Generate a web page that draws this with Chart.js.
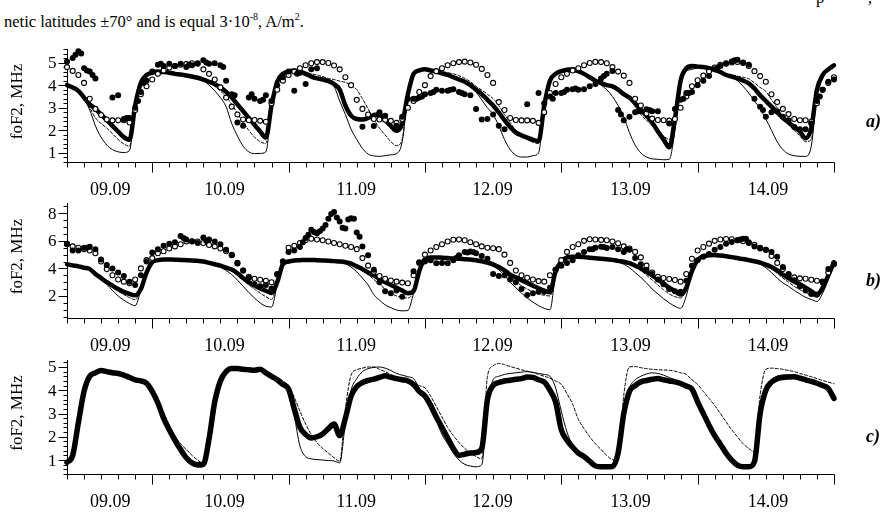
<!DOCTYPE html>
<html>
<head>
<meta charset="utf-8">
<title>foF2 panels</title>
<script src="https://cdn.jsdelivr.net/npm/chart.js@4.4.0/dist/chart.umd.min.js"></script>
<style>
  html, body { margin: 0; padding: 0; background: #fff; }
  #wrap { position: relative; width: 882px; height: 514px; overflow: hidden; }
  #wrap canvas { position: absolute; left: 0; top: 0; }
  .txt { position: absolute; font: 16.5px 'Liberation Serif', 'Times New Roman', serif; line-height: 18px; white-space: nowrap; color: #000; }
  .txt sup { font-size: 10px; line-height: 0; vertical-align: 7px; }
</style>
</head>
<body>
<div id="wrap">
  <div class="txt" style="left:4px;top:13px">netic latitudes ±70° and is equal 3·10<sup>-8</sup>, A/m<sup>2</sup>.</div>
  <div class="txt" style="left:816px;top:-11px">p</div>
  <div class="txt" style="left:868px;top:-11px">,</div>
  <canvas id="chartA" width="882" height="514"></canvas>
  <canvas id="chartB" width="882" height="514"></canvas>
  <canvas id="chartC" width="882" height="514"></canvas>
</div>
<script>
'use strict';
// time axis: hours counted from 09.09 00:00
const hours = [9,10,11,12,13,14,15,16,17,18,19,20,21,22,23,
  24,25,26,27,28,29,30,31,32,33,34,35,36,37,38,39,40,41,42,43,44,45,46,47,
  48,49,50,51,52,53,54,55,56,57,58,59,60,61,62,63,64,65,66,67,68,69,70,71,
  72,73,74,75,76,77,78,79,80,81,82,83,84,85,86,87,88,89,90,91,92,93,94,95,
  96,97,98,99,100,101,102,103,104,105,106,107,108,109,110,111,112,113,114,115,116,117,118,119,
  120,121,122,123,124,125,126,127,128,129,130,131,132,133,134,135,136,137,138,139,140,141,142,143,144];
const dayLabels = ['09.09', '10.09', '11.09', '12.09', '13.09', '14.09'];
const dayLabelHours = [16.6, 36.7, 59.9, 83.9, 108.2, 132.4];
const aYTicks = [1, 2, 3, 4, 5];
const bYTicks = [2, 4, 6, 8];
const cYTicks = [1, 2, 3, 4, 5];

// ---- panel a ----
const aThick = [4.0,3.9,3.75,3.45,3.15,2.95,2.7,2.45,2.2,1.95,1.7,1.58,3.1,4.1,4.45,
  4.55,4.6,4.58,4.55,4.5,4.47,4.43,4.38,4.33,4.25,4.15,4.05,3.9,3.7,3.45,3.15,2.85,2.55,2.25,1.95,1.68,3.1,4.15,4.5,
  4.6,4.65,4.6,4.5,4.38,4.3,4.25,4.18,4.05,3.8,3.1,2.65,2.5,2.48,2.55,2.68,2.7,2.45,2.2,1.98,2.3,3.6,4.5,4.65,
  4.7,4.65,4.6,4.52,4.45,4.35,4.25,4.15,4.0,3.8,3.6,3.35,3.1,2.8,2.45,2.15,1.9,1.78,1.68,1.58,1.52,3.1,4.2,4.5,
  4.62,4.68,4.7,4.62,4.5,4.35,4.2,4.1,4.0,3.95,3.8,3.6,3.45,3.2,2.9,2.65,2.35,1.95,1.6,1.25,2.5,4.2,4.75,4.85,
  4.82,4.8,4.75,4.68,4.58,4.45,4.38,4.3,4.2,4.08,3.85,3.55,3.3,3.05,2.8,2.55,2.35,2.15,1.95,1.65,2.1,3.8,4.45,4.7,4.88];
const aThin = [4.0,3.9,3.75,3.4,2.9,2.2,1.7,1.35,1.15,1.05,1.02,1.1,3.1,4.2,4.5,
  4.6,4.62,4.6,4.55,4.5,4.45,4.4,4.35,4.3,4.2,4.0,3.75,3.45,3.05,2.3,1.75,1.3,1.05,0.97,0.98,1.05,3.0,4.2,4.55,
  4.65,4.68,4.65,4.55,4.45,4.35,4.3,4.2,3.95,3.3,2.7,2.05,1.6,1.2,0.95,0.87,0.85,0.88,0.92,0.97,1.5,3.6,4.55,4.7,
  4.72,4.7,4.65,4.58,4.5,4.42,4.32,4.2,4.0,3.7,3.35,3.0,2.7,2.2,1.6,1.15,0.9,0.82,0.82,0.88,1.0,3.0,4.15,4.45,
  4.55,4.6,4.6,4.55,4.45,4.3,4.15,4.0,3.8,3.5,3.1,2.6,1.9,1.35,1.0,0.82,0.74,0.72,0.7,0.72,2.0,4.0,4.6,4.7,
  4.75,4.75,4.7,4.62,4.55,4.45,4.35,4.2,3.95,3.65,3.3,2.95,2.5,2.0,1.5,1.15,0.95,0.88,0.85,0.85,1.3,3.5,4.3,4.65,4.8];
const aDash = [4.0,3.9,3.75,3.45,3.0,2.55,2.3,2.1,1.85,1.6,1.4,1.3,3.1,4.2,4.5,
  4.6,4.62,4.6,4.55,4.5,4.45,4.4,4.35,4.3,4.22,4.1,3.95,3.75,3.5,3.15,2.75,2.35,2.0,1.7,1.5,1.42,3.1,4.2,4.55,
  4.65,4.68,4.65,4.58,4.5,4.45,4.38,4.3,4.25,4.18,4.12,4.0,3.8,3.4,2.95,2.5,2.1,1.8,1.5,1.32,1.6,3.6,4.55,4.7,
  4.72,4.7,4.65,4.6,4.55,4.5,4.42,4.3,4.15,3.95,3.78,3.6,3.4,3.1,2.7,2.35,2.0,1.78,1.6,1.48,1.42,3.0,4.15,4.5,
  4.6,4.62,4.62,4.56,4.45,4.35,4.25,4.15,4.05,3.98,3.8,3.55,3.4,3.05,2.7,2.45,2.2,1.95,1.75,1.6,2.3,4.1,4.65,4.75,
  4.78,4.78,4.72,4.65,4.58,4.5,4.45,4.4,4.35,4.28,4.1,3.9,3.72,3.35,3.0,2.6,2.3,2.0,1.75,1.5,1.6,3.6,4.35,4.68,4.85];
const aCircles = [4.8,4.63,4.45,4.1,3.4,2.95,2.68,2.48,2.44,2.45,2.45,2.35,2.9,3.6,3.95,
  4.25,4.5,4.65,4.78,4.85,4.9,4.93,4.97,4.97,4.7,4.5,4.25,3.9,3.45,3.05,2.7,2.48,2.45,2.46,2.42,2.38,3.2,3.8,4.2,
  4.45,4.6,4.75,4.88,4.97,5.02,5.02,4.98,4.87,4.7,4.35,4.0,3.35,2.95,2.7,2.5,2.48,2.47,2.42,2.33,2.5,3.0,3.3,3.7,
  4.0,4.4,4.62,4.75,4.88,4.97,5.02,5.04,5.0,4.9,4.72,4.45,4.1,3.25,2.9,2.55,2.46,2.44,2.44,2.42,2.33,2.8,3.65,4.05,
  4.35,4.5,4.65,4.75,4.88,4.98,5.03,5.02,4.97,4.8,4.6,4.42,4.1,3.4,3.1,2.75,2.52,2.46,2.45,2.43,2.5,3.0,3.5,3.95,
  4.22,4.42,4.6,4.78,4.9,4.97,5.0,5.03,4.98,4.85,4.62,4.4,4.15,3.6,3.25,2.95,2.72,2.5,2.45,2.45,2.38,3.2,3.8,4.1,4.35];
const aDots = [5.05,5.2,5.5,4.75,4.6,4.3,null,null,3.45,3.55,2.5,2.55,3.0,3.7,4.2,
  4.6,4.9,4.85,4.95,4.85,4.95,4.8,4.88,4.95,5.1,4.95,4.97,4.88,4.2,3.6,2.35,2.2,3.45,3.4,3.3,3.55,3.3,4.0,4.35,
  4.6,3.75,4.55,4.05,4.7,4.75,null,null,null,null,null,null,null,2.16,null,2.19,2.8,2.65,null,2.2,2.6,3.4,3.4,3.45,
  3.6,3.65,3.8,3.75,3.75,3.82,3.7,3.6,3.55,2.95,2.48,2.5,2.7,2.2,2.05,null,null,null,3.15,null,3.65,3.2,3.5,3.65,
  3.65,3.8,3.82,3.8,3.82,3.95,4.05,4.3,4.5,4.63,2.9,2.45,2.6,2.8,2.85,2.93,2.85,2.85,null,2.3,2.95,3.35,3.65,3.7,
  4.0,4.2,4.4,4.7,4.85,4.95,5.05,5.12,5.0,4.9,3.4,3.05,2.6,2.8,2.85,2.6,2.45,2.15,2.05,2.05,2.3,3.3,3.8,4.15,4.25];
const aExtraX = [10.5,11.5,12.5,13.5,19.5,21.5,22.5,25.5,30.5,33.5,36.5,38.5,41.5,43.5,49.5,70.5,71.5,73.5,76.5,78.5,
  94.5,96.5,98.5,103.5,106.5,109.5,111.5,117.5,118.5,123.5,126.5,131.5,141.5];
const aExtraY = [5.35,5.4,4.65,4.45,2.55,3.3,4.1,4.95,4.9,5.0,4.8,3.55,3.6,3.35,4.5,3.4,3.5,3.7,3.8,3.65,
  3.4,3.7,3.85,4.4,2.7,2.85,2.9,3.4,3.65,4.78,5.1,2.9,3.5];

// ---- panel b ----
const bThick = [4.3,4.22,4.15,4.05,3.95,3.6,3.3,3.0,2.75,2.5,2.3,2.15,2.05,2.5,3.7,
  4.45,4.6,4.65,4.65,4.63,4.62,4.6,4.58,4.55,4.5,4.4,4.3,4.2,4.05,3.92,3.65,3.3,3.0,2.75,2.55,2.38,2.22,3.0,4.3,
  4.5,4.58,4.6,4.62,4.62,4.6,4.58,4.56,4.53,4.5,4.45,4.35,4.15,3.95,3.7,3.5,3.25,3.0,2.8,2.6,2.4,2.2,2.35,3.8,
  4.7,4.8,4.8,4.78,4.75,4.72,4.7,4.67,4.64,4.6,4.52,4.42,4.3,4.1,3.85,3.55,3.35,3.15,2.95,2.75,2.55,2.38,2.28,3.8,
  4.5,4.8,4.85,4.85,4.82,4.78,4.74,4.7,4.66,4.62,4.55,4.48,4.38,4.2,4.0,3.75,3.5,3.2,2.9,2.6,2.35,2.1,2.6,3.8,
  4.6,4.9,4.95,4.97,4.93,4.88,4.82,4.75,4.68,4.6,4.52,4.42,4.28,4.1,3.85,3.55,3.3,3.05,2.85,2.6,2.35,2.1,2.6,3.5,4.45];
const bThin = [4.3,4.22,4.15,4.05,3.9,3.55,3.2,2.85,2.4,2.0,1.7,1.45,1.3,2.4,3.7,
  4.45,4.6,4.65,4.65,4.63,4.62,4.6,4.58,4.55,4.5,4.4,4.28,4.1,3.85,3.55,3.15,2.7,2.25,1.85,1.5,1.25,1.2,2.8,4.25,
  4.5,4.58,4.6,4.62,4.62,4.6,4.58,4.56,4.53,4.48,4.35,4.1,3.75,3.3,2.8,2.1,1.7,1.35,1.15,0.98,0.92,0.95,2.2,3.7,
  4.7,4.8,4.8,4.78,4.75,4.72,4.7,4.67,4.64,4.58,4.48,4.35,4.15,3.9,3.5,3.0,2.6,2.2,1.85,1.55,1.3,1.1,1.0,3.5,
  4.45,4.75,4.8,4.8,4.78,4.75,4.72,4.68,4.62,4.55,4.45,4.3,4.05,3.7,3.35,2.95,2.5,2.15,1.8,1.5,1.25,1.1,2.0,3.7,
  4.55,4.85,4.92,4.95,4.9,4.85,4.8,4.72,4.65,4.55,4.45,4.3,4.05,3.7,3.3,2.95,2.7,2.4,2.15,1.9,1.75,1.6,2.2,3.2,4.3];
const bDash = [4.3,4.22,4.15,4.05,3.93,3.58,3.25,2.95,2.65,2.35,2.1,1.88,1.72,2.5,3.7,
  4.45,4.6,4.65,4.65,4.63,4.62,4.6,4.58,4.55,4.5,4.4,4.28,4.15,3.98,3.8,3.5,3.15,2.8,2.5,2.2,1.95,1.75,2.9,4.25,
  4.5,4.58,4.6,4.62,4.62,4.6,4.58,4.56,4.53,4.5,4.42,4.3,4.1,3.85,3.55,3.2,2.85,2.5,2.2,2.0,1.9,1.85,2.3,3.75,
  4.7,4.8,4.8,4.78,4.75,4.72,4.7,4.67,4.64,4.6,4.5,4.38,4.22,4.0,3.7,3.35,3.05,2.75,2.5,2.3,2.15,2.05,2.0,3.6,
  4.45,4.78,4.83,4.83,4.8,4.76,4.72,4.68,4.64,4.6,4.52,4.42,4.3,4.1,3.85,3.5,3.15,2.8,2.45,2.15,1.95,1.85,2.5,3.75,
  4.58,4.88,4.93,4.96,4.92,4.86,4.8,4.73,4.66,4.58,4.5,4.38,4.2,3.95,3.65,3.3,3.0,2.7,2.45,2.25,2.05,1.9,2.4,3.3,4.35];
const bCircles = [5.75,5.6,5.5,5.4,5.3,5.1,4.5,3.95,3.5,3.2,3.04,2.92,3.2,4.0,4.6,
  4.75,5.1,5.25,5.45,5.6,5.75,5.95,5.97,5.95,5.85,5.7,5.6,5.45,5.25,4.98,4.4,3.85,3.4,3.25,3.18,3.1,3.0,3.6,4.5,
  5.5,5.65,5.85,6.05,6.15,6.1,6.05,5.95,5.85,5.75,5.65,5.55,5.4,4.75,4.2,3.75,3.45,3.25,3.12,3.04,2.97,2.92,3.5,4.4,
  5.0,5.3,5.55,5.75,5.95,6.08,6.1,6.05,5.9,5.75,5.6,5.5,5.46,5.4,5.0,4.4,3.85,3.5,3.32,3.2,3.08,3.04,3.5,3.9,
  4.6,5.2,5.55,5.75,6.0,6.12,6.1,6.07,6.05,5.95,5.83,5.6,5.45,5.2,4.8,4.2,3.7,3.4,3.3,3.23,3.16,3.04,3.6,4.7,
  5.3,5.55,5.8,6.0,6.1,6.14,6.12,6.05,5.97,5.85,5.72,5.5,5.35,4.9,4.4,3.95,3.55,3.35,3.28,3.25,3.18,3.1,3.04,3.7,4.3];
const bDots = [5.8,5.3,5.3,5.5,5.58,5.4,4.65,4.25,4.0,3.7,3.45,3.04,2.8,3.5,4.5,
  5.15,5.4,5.65,5.8,5.9,6.35,6.1,5.95,5.85,6.25,6.1,5.95,5.75,5.35,4.95,4.35,3.85,3.3,2.85,2.7,2.8,2.55,3.55,4.5,
  5.2,5.3,5.55,6.2,6.8,6.55,6.9,7.6,8.1,7.4,6.9,7.65,6.6,5.6,4.95,3.9,3.0,2.35,2.2,2.4,1.95,null,3.8,4.45,
  4.5,4.6,4.38,4.4,4.37,4.6,4.95,5.2,5.22,5.1,4.9,4.7,3.6,3.45,3.5,3.2,3.0,2.5,2.07,2.2,2.3,2.3,2.6,3.9,
  4.2,4.4,4.6,4.95,5.2,5.4,5.5,5.58,5.48,5.55,5.4,5.2,5.35,4.75,4.3,3.9,3.6,3.2,2.85,2.5,2.35,2.3,3.1,4.2,
  4.6,4.85,5.05,5.35,5.55,5.8,5.92,6.05,6.15,5.9,5.6,5.45,5.35,5.2,4.85,4.1,3.6,3.15,2.7,2.4,2.15,2.1,3.0,3.95,4.35];
const bExtraX = [12.5,29.5,33.5,50.5,51.5,52.5,53.5,54.5,55.5,56.5,57.5,58.5,59.5,60.5,77.5,79.5,80.5,101.5,103.5,107.5,127.5,128.5];
const bExtraY = [5.5,6.2,6.0,5.9,6.45,6.65,6.7,7.15,7.95,7.7,6.95,7.55,7.6,6.3,4.75,5.15,5.2,5.4,5.55,5.4,6.1,6.15];

// ---- panel c ----
const cThick = [0.9,1.2,2.6,3.95,4.6,4.75,4.85,4.8,4.75,4.72,4.65,4.55,4.45,4.4,4.3,
  3.95,3.45,2.8,2.3,1.85,1.45,1.1,0.88,0.8,0.82,1.9,3.5,4.4,4.8,4.93,4.93,4.9,4.88,4.86,4.9,4.75,4.6,4.45,4.25,
  4.05,3.2,2.4,2.1,1.95,2.0,2.12,2.35,2.55,2.05,2.8,3.75,4.15,4.33,4.42,4.48,4.55,4.62,4.55,4.5,4.45,4.4,4.25,3.95,
  3.75,3.35,2.85,2.4,1.95,1.5,1.2,1.25,1.3,1.32,1.5,3.6,4.2,4.33,4.4,4.43,4.47,4.5,4.57,4.55,4.45,4.35,4.0,3.5,
  2.3,1.85,1.55,1.3,1.15,0.95,0.75,0.71,0.71,0.72,1.3,3.0,3.95,4.2,4.36,4.42,4.47,4.5,4.45,4.4,4.36,4.29,4.18,4.05,
  3.5,3.0,2.5,2.05,1.68,1.3,1.0,0.78,0.71,0.71,0.93,3.0,4.0,4.35,4.5,4.55,4.57,4.58,4.52,4.45,4.38,4.3,4.2,4.07,3.65];
const cThin = [0.9,1.2,2.6,3.95,4.6,4.75,4.85,4.8,4.75,4.72,4.65,4.55,4.45,4.4,4.3,
  3.95,3.4,2.75,2.25,1.75,1.35,1.0,0.78,0.7,0.72,1.9,3.5,4.45,4.85,4.95,4.95,4.92,4.9,4.88,4.92,4.8,4.65,4.48,4.25,
  3.9,2.9,1.6,1.15,1.05,1.02,1.0,0.98,0.96,0.88,2.6,4.0,4.5,4.8,4.93,4.98,5.0,4.95,4.85,4.72,4.65,4.58,4.5,4.1,
  3.8,3.2,2.7,2.1,1.7,1.3,1.0,0.82,0.74,0.71,0.8,3.3,4.45,4.6,4.68,4.72,4.75,4.78,4.8,4.77,4.72,4.68,4.6,4.1,
  3.1,2.2,1.65,1.3,1.1,0.85,0.72,0.7,0.7,0.72,1.2,3.1,4.1,4.45,4.6,4.7,4.75,4.72,4.65,4.55,4.45,4.35,4.25,4.05,
  3.55,3.0,2.45,2.0,1.6,1.25,0.95,0.75,0.7,0.7,0.9,3.0,4.1,4.45,4.6,4.65,4.65,4.62,4.55,4.48,4.4,4.35,4.28,4.15,3.8];
const cDash = [0.9,1.2,2.6,3.95,4.6,4.75,4.85,4.8,4.75,4.72,4.65,4.55,4.45,4.4,4.3,
  4.05,3.6,3.05,2.5,2.05,1.7,1.45,1.2,1.0,0.85,1.9,3.5,4.45,4.85,4.9,4.9,4.88,4.85,4.85,4.88,4.8,4.68,4.55,4.4,
  4.2,3.7,3.1,2.55,2.1,1.75,1.5,1.3,1.1,0.95,3.2,4.65,4.88,4.95,5.0,5.0,4.9,4.8,4.68,4.58,4.52,4.47,4.35,4.2,
  4.1,3.75,3.3,2.85,2.4,2.05,1.75,1.5,1.3,1.15,1.05,4.6,5.05,5.15,5.1,5.02,4.95,4.88,4.82,4.76,4.68,4.6,4.52,4.4,
  4.25,3.85,3.4,2.75,2.35,2.0,1.7,1.45,1.2,1.02,1.0,3.8,5.0,5.02,4.97,4.93,4.9,4.88,4.87,4.86,4.82,4.75,4.68,4.45,
  4.25,3.95,3.65,3.35,3.0,2.65,2.3,2.0,1.7,1.5,1.35,3.8,4.9,4.95,4.93,4.9,4.85,4.8,4.72,4.65,4.58,4.5,4.42,4.35,4.28];

const FONT = "'Liberation Serif', 'Times New Roman', serif";
Chart.defaults.font.family = FONT;

const pts = (vals, xs = hours) => xs.map((h, i) => ({ x: h, y: vals[i] }));

const lineSet = (vals, width, dash) => ({
  type: 'line', data: pts(vals), borderColor: '#000', borderWidth: width, borderDash: dash || [],
  pointRadius: 0, cubicInterpolationMode: 'monotone', borderJoinStyle: 'round', borderCapStyle: 'round',
  fill: false, clip: false
});
const circleSet = vals => ({
  type: 'scatter', data: pts(vals), pointRadius: 2.5, pointBorderWidth: 1.1,
  pointBorderColor: '#000', pointBackgroundColor: '#fff', clip: false
});
const dotSet = (vals, xs) => ({
  type: 'scatter', data: pts(vals, xs), pointRadius: 3, pointBorderWidth: 0,
  pointBorderColor: '#000', pointBackgroundColor: '#000', clip: false
});

// axes drawn the way the paper figure has them: L-shaped frame, minor/major ticks, day labels between midnights
const paperAxes = {
  id: 'paperAxes',
  beforeDatasetsDraw(chart, args, o) {
    const { ctx, chartArea: a, scales: { x, y } } = chart;
    ctx.save();
    ctx.strokeStyle = '#000';
    ctx.fillStyle = '#000';
    ctx.lineWidth = 1;
    const L = Math.round(a.left) + 0.5, B = Math.round(a.bottom) + 0.5;
    ctx.beginPath();
    ctx.moveTo(L, Math.round(a.top));
    ctx.lineTo(L, B);
    ctx.lineTo(Math.round(a.right) + 0.5, B);
    ctx.stroke();

    ctx.beginPath();
    for (let h = 9; h <= 144; h += 3) {
      const px = Math.round(x.getPixelForValue(h)) + 0.5;
      ctx.moveTo(px, B);
      ctx.lineTo(px, B + (h % 24 === 0 ? 10 : 5));
    }
    const n = Math.round((o.yLast - o.yFirst) / o.yStep);
    for (let k = 0; k <= n; k++) {
      const v = +(o.yFirst + k * o.yStep).toFixed(4);
      const py = Math.round(y.getPixelForValue(v)) + 0.5;
      const major = o.yLabels.includes(v);
      ctx.moveTo(L, py);
      ctx.lineTo(L - (major ? 9 : 4), py);
    }
    ctx.stroke();

    ctx.font = `17px ${FONT}`;
    ctx.textAlign = 'right';
    ctx.textBaseline = 'middle';
    o.yLabels.forEach(v => ctx.fillText(String(v), L - 11, y.getPixelForValue(v) + 1));

    ctx.font = `18px ${FONT}`;
    ctx.textAlign = 'center';
    dayLabels.forEach((t, i) => ctx.fillText(t, x.getPixelForValue(dayLabelHours[i]), B + 28));

    ctx.save();
    ctx.translate(18, (a.top + a.bottom) / 2 - 4);
    ctx.rotate(-Math.PI / 2);
    ctx.font = `17px ${FONT}`;
    ctx.fillText('foF2, MHz', 0, 0);
    ctx.restore();

    ctx.font = `bold italic 18px ${FONT}`;
    ctx.textAlign = 'left';
    ctx.fillText(o.letter, 866, o.letterY);
    ctx.restore();
  }
};

function makePanel(id, top, bottom, yMin, yMax, axisOpts, datasets) {
  return new Chart(document.getElementById(id), {
    type: 'scatter',
    data: { datasets },
    options: {
      responsive: false,
      animation: false,
      devicePixelRatio: 1,
      events: [],
      layout: { padding: { left: 67, right: 48, top: top, bottom: 514 - bottom } },
      plugins: { legend: { display: false }, tooltip: { enabled: false }, paperAxes: axisOpts },
      scales: {
        x: { type: 'linear', min: 9, max: 144, display: false },
        y: { type: 'linear', min: yMin, max: yMax, display: false }
      }
    },
    plugins: [paperAxes]
  });
}

// first dataset in the list is painted last (on top)
makePanel('chartA', 49, 162, 0.6, 5.6,
  { yFirst: 0.6, yLast: 5.6, yStep: 0.2, yLabels: aYTicks, letter: 'a)', letterY: 122 },
  [dotSet(aDots), dotSet(aExtraY, aExtraX), circleSet(aCircles), lineSet(aThick, 4.5),
   lineSet(aDash, 1, [3, 2]), lineSet(aThin, 1)]);

makePanel('chartB', 203, 318, 0.4, 8.75,
  { yFirst: 0.5, yLast: 8.5, yStep: 0.5, yLabels: bYTicks, letter: 'b)', letterY: 281 },
  [dotSet(bDots), dotSet(bExtraY, bExtraX), circleSet(bCircles), lineSet(bThick, 4.5),
   lineSet(bDash, 1, [3, 2]), lineSet(bThin, 1)]);

makePanel('chartC', 360, 474, 0.4, 5.3,
  { yFirst: 0.4, yLast: 5.2, yStep: 0.2, yLabels: cYTicks, letter: 'c)', letterY: 437 },
  [lineSet(cThick, 5.5), lineSet(cDash, 1, [3, 2]), lineSet(cThin, 1)]);
</script>
</body>
</html>
